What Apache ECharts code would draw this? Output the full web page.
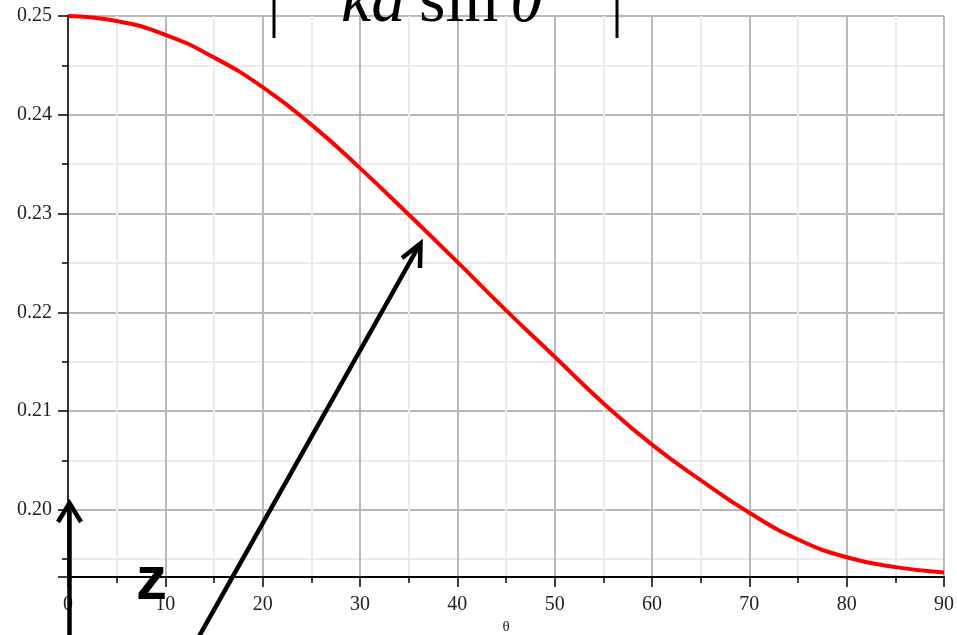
<!DOCTYPE html>
<html>
<head>
<meta charset="utf-8">
<script src="https://cdn.jsdelivr.net/npm/echarts@6/dist/echarts.min.js"></script>
<style>
html,body{margin:0;padding:0;background:#fff;}
#chart{width:957px;height:635px;}
</style>
</head>
<body>
<div id="chart"></div>
<script>
// Data
var thetaDeg = [0, 5, 10, 15, 20, 25, 30, 35, 40, 45, 50, 55, 60, 65, 70, 75, 80, 85, 90];
var values   = [0.2500, 0.2495, 0.2481, 0.2458, 0.2428, 0.2390, 0.2346, 0.2299, 0.2251, 0.2202,
                0.2155, 0.2108, 0.2066, 0.2030, 0.1997, 0.1970, 0.1952, 0.1942, 0.19365];
var xTicks = [0, 10, 20, 30, 40, 50, 60, 70, 80, 90];
var yTicks = [0.20, 0.21, 0.22, 0.23, 0.24, 0.25];
var xName = 'θ';

var seriesData = thetaDeg.map(function (t, i) { return [t, values[i]]; });

var chart = echarts.init(document.getElementById('chart'), null, {renderer: 'canvas'});
var serif = "'Liberation Serif','Times New Roman',serif";

chart.setOption({
  animation: false,
  backgroundColor: '#ffffff',
  grid: {left: 68, right: 13, top: 16, bottom: 58, containLabel: false, outerBoundsMode: 'none'},
  xAxis: {
    type: 'value',
    min: xTicks[0],
    max: xTicks[xTicks.length - 1],
    interval: 10,
    name: xName,
    nameLocation: 'middle',
    nameGap: 42,
    nameTextStyle: {fontFamily: serif, fontSize: 15, color: '#222'},
    axisLine: {show: true, onZero: false, lineStyle: {color: '#000', width: 2}},
    axisTick: {show: true, length: 10, lineStyle: {color: '#000', width: 1.5}},
    minorTick: {show: true, splitNumber: 2, length: 6, lineStyle: {color: '#000', width: 1.5}},
    axisLabel: {fontFamily: serif, fontSize: 20, color: '#222', margin: 18},
    splitLine: {show: true, lineStyle: {color: '#b9b9b9', width: 2}},
    minorSplitLine: {show: true, lineStyle: {color: '#ebebeb', width: 2}}
  },
  yAxis: {
    type: 'value',
    min: 0.1932,
    max: yTicks[yTicks.length - 1],
    splitNumber: 5,
    minInterval: 0.01,
    maxInterval: 0.01,
    axisLine: {show: true, onZero: false, lineStyle: {color: '#000', width: 1.5}},
    axisTick: {show: true, length: 10, lineStyle: {color: '#000', width: 1.5}},
    minorTick: {show: true, splitNumber: 2, length: 6, lineStyle: {color: '#000', width: 1.5}},
    axisLabel: {
      fontFamily: serif, fontSize: 20, color: '#222', margin: 16,
      showMinLabel: false,
      formatter: function (v) {
        for (var i = 0; i < yTicks.length; i++) {
          if (Math.abs(v - yTicks[i]) < 1e-9) return yTicks[i].toFixed(2);
        }
        return '';
      }
    },
    splitLine: {show: true, lineStyle: {color: '#b9b9b9', width: 2}},
    minorSplitLine: {show: true, lineStyle: {color: '#ebebeb', width: 2}}
  },
  series: [{
    type: 'line',
    data: seriesData,
    smooth: true,
    showSymbol: false,
    clip: false,
    lineStyle: {color: '#ff0000', width: 4},
    z: 3
  }],
  graphic: [
    // fragment of equation at the top
    {type: 'text', z: 100, style: {x: 341, y: 3, text: 'kd', font: "italic 68px 'Liberation Serif'", fill: '#000', textAlign: 'left', textVerticalAlign: 'middle'}},
    {type: 'text', z: 100, style: {x: 419, y: 3, text: 'sin', font: "68px 'Liberation Serif'", fill: '#000', textAlign: 'left', textVerticalAlign: 'middle'}},
    {type: 'text', z: 100, style: {x: 510, y: 3, text: 'θ', font: "italic 68px 'Liberation Serif'", fill: '#000', textAlign: 'left', textVerticalAlign: 'middle'}},
    {type: 'line', z: 100, shape: {x1: 274, y1: 0, x2: 274, y2: 38}, style: {stroke: '#000', lineWidth: 3}},
    {type: 'line', z: 100, shape: {x1: 617, y1: 0, x2: 617, y2: 38}, style: {stroke: '#000', lineWidth: 3}},
    // z arrow
    {type: 'line', z: 100, shape: {x1: 69.5, y1: 640, x2: 69.5, y2: 504}, style: {stroke: '#000', lineWidth: 4.5}},
    {type: 'polyline', z: 100, shape: {points: [[58, 522], [69.5, 503], [81, 522]]}, style: {stroke: '#000', lineWidth: 4.5, fill: null, lineJoin: 'miter'}},
    {type: 'text', z: 100, style: {x: 136, y: 582, text: 'z', font: "bold 62px 'Liberation Sans'", fill: '#000', textAlign: 'left', textVerticalAlign: 'middle'}},
    // diagonal arrow
    {type: 'line', z: 100, shape: {x1: 197, y1: 640, x2: 420, y2: 244}, style: {stroke: '#000', lineWidth: 4.5}},
    {type: 'polyline', z: 100, shape: {points: [[402, 258], [420.5, 243.5], [420, 268]]}, style: {stroke: '#000', lineWidth: 4.5, fill: null, lineJoin: 'miter'}}
  ]
});
</script>
</body>
</html>
